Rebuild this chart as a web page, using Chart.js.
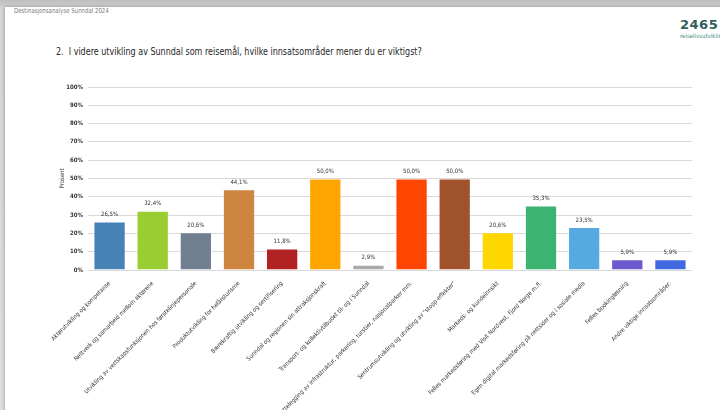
<!DOCTYPE html>
<html>
<head>
<meta charset="utf-8">
<script src="https://cdn.jsdelivr.net/npm/chart.js@4.4.1/dist/chart.umd.min.js"></script>
<style>
  html, body { margin: 0; padding: 0; }
  body {
    width: 720px; height: 410px; overflow: hidden; position: relative;
    background: linear-gradient(#bdbdbd, #d6d6d6 8px, #e0e0e0);
    font-family: 'Liberation Sans Narrow', 'DejaVu Sans Condensed', sans-serif;
  }
  .slide {
    position: absolute; left: 5px; top: 7px; width: 740px; height: 420px;
    background: #fff; box-shadow: 0 0 4px rgba(0,0,0,0.35);
  }
  .header {
    position: absolute; left: 14px; top: 7px; font-size: 7px; color: #7a7a7a;
    transform: scaleX(0.86); transform-origin: left top; white-space: pre;
  }
  .title {
    position: absolute; left: 56px; top: 45px; font-size: 11px; color: #262626;
    white-space: pre; transform: scaleX(0.81); transform-origin: left top;
  }
  .logo {
    position: absolute; left: 680px; top: 18px; color: #2f5f5a; white-space: nowrap;
  }
  .logo .num { font-family: 'DejaVu Sans', sans-serif; font-size: 13px; font-weight: bold; letter-spacing: 0.5px; line-height: 14px; }
  .logo .sub { font-size: 6px; color: #3a8a7a; line-height: 8px; }
  canvas { position: absolute; left: 0; top: 0; }
</style>
</head>
<body>
<div class="slide"></div>
<div class="header">Destinasjonsanalyse Sunndal 2024</div>
<div class="title">2.  I videre utvikling av Sunndal som reisemål, hvilke innsatsområder mener du er viktigst?</div>
<div class="logo"><div class="num">2465</div><div class="sub">reiselivsutvikling</div></div>
<canvas id="chart" width="720" height="410"></canvas>
<script>
// Kategorier
const categories = [
    'Aktørutvikling og kompetanse',
    'Nettverk og samarbeid mellom aktørene',
    'Utvikling av vertskapsfunksjonen hos førstelinjepersonale',
    'Produktutvikling for helårsturisme',
    'Bærekraftig utvikling og sertifisering',
    'Sunndal og regionen sin attraksjonskraft',
    'Transport- og kollektivtilbudet til- og i Sunndal',
    'Tilrettelegging av infrastruktur, parkering, turstier, nasjonalparker mm.',
    'Sentrumsutvikling og utvikling av "stopp-effekter"',
    'Markeds- og kundeinnsikt',
    'Felles markedsføring med Visit Nordvest, Fjord Norge m.fl.',
    'Egen digital markedsføring på nettsider og i sosiale media',
    'Felles bookingløsning',
    'Andre viktige innsatsområder:'
];

// Verdier (prosent)
const values = [26.5, 32.4, 20.6, 44.1, 11.8, 50.0, 2.9, 50.0, 50.0, 20.6, 35.3, 23.5, 5.9, 5.9];

// Farger per stolpe
const barColors = [
    '#4682b4', '#9acd32', '#708090', '#cd853f', '#b22222', '#ffa500', '#a9a9a9',
    '#ff4500', '#a0522d', '#ffd700', '#3cb371', '#56aadf', '#6a5acd', '#4169e1'
];

// Y-akse
const yMin = 0;
const yMax = 100;
const yStep = 10;

// Tekst over stolpene
const valueLabelsPlugin = {
    id: 'valueLabels',
    afterDatasetsDraw(chart) {
        const ctx = chart.ctx;
        const meta = chart.getDatasetMeta(0);
        ctx.save();
        ctx.font = '6px "Liberation Sans Narrow", "DejaVu Sans Condensed", sans-serif';
        ctx.fillStyle = '#333';
        ctx.textAlign = 'center';
        ctx.textBaseline = 'bottom';
        meta.data.forEach((bar, i) => {
            const txt = values[i].toFixed(1).replace('.', ',') + '%';
            ctx.fillText(txt, bar.x, bar.y - 4);
        });
        ctx.restore();
    }
};

const ctx = document.getElementById('chart').getContext('2d');
new Chart(ctx, {
    type: 'bar',
    data: {
        labels: categories,
        datasets: [{
            data: values,
            backgroundColor: barColors,
            borderColor: 'rgba(255,255,255,0.35)',
            borderWidth: 1,
            categoryPercentage: 0.85,
            barPercentage: 0.88
        }]
    },
    options: {
        responsive: false,
        animation: false,
        layout: { padding: { left: 55, right: 28, top: 87, bottom: 0 } },
        plugins: {
            legend: { display: false },
            tooltip: { enabled: false }
        },
        scales: {
            x: {
                grid: { display: false },
                border: { display: false },
                ticks: {
                    minRotation: 45,
                    maxRotation: 45,
                    autoSkip: false,
                    padding: 2,
                    color: '#333',
                    font: { family: '"Liberation Sans Narrow", "DejaVu Sans Condensed", sans-serif', size: 6 }
                },
                afterFit(scale) { scale.height = 140; }
            },
            y: {
                min: yMin,
                max: yMax,
                grid: { color: '#d9d9d9', lineWidth: 1, drawTicks: false },
                border: { display: false },
                ticks: {
                    stepSize: yStep,
                    padding: 5,
                    color: '#333',
                    font: { family: '"Liberation Sans Narrow", "DejaVu Sans Condensed", sans-serif', size: 6, weight: 'bold' },
                    callback: (v) => v + '%'
                },
                title: {
                    display: true,
                    text: 'Prosent',
                    color: '#333',
                    padding: 4,
                    font: { family: '"Liberation Sans Narrow", "DejaVu Sans Condensed", sans-serif', size: 6 }
                },
                afterFit(scale) { scale.width = 33; }
            }
        }
    },
    plugins: [valueLabelsPlugin]
});
</script>
</body>
</html>
